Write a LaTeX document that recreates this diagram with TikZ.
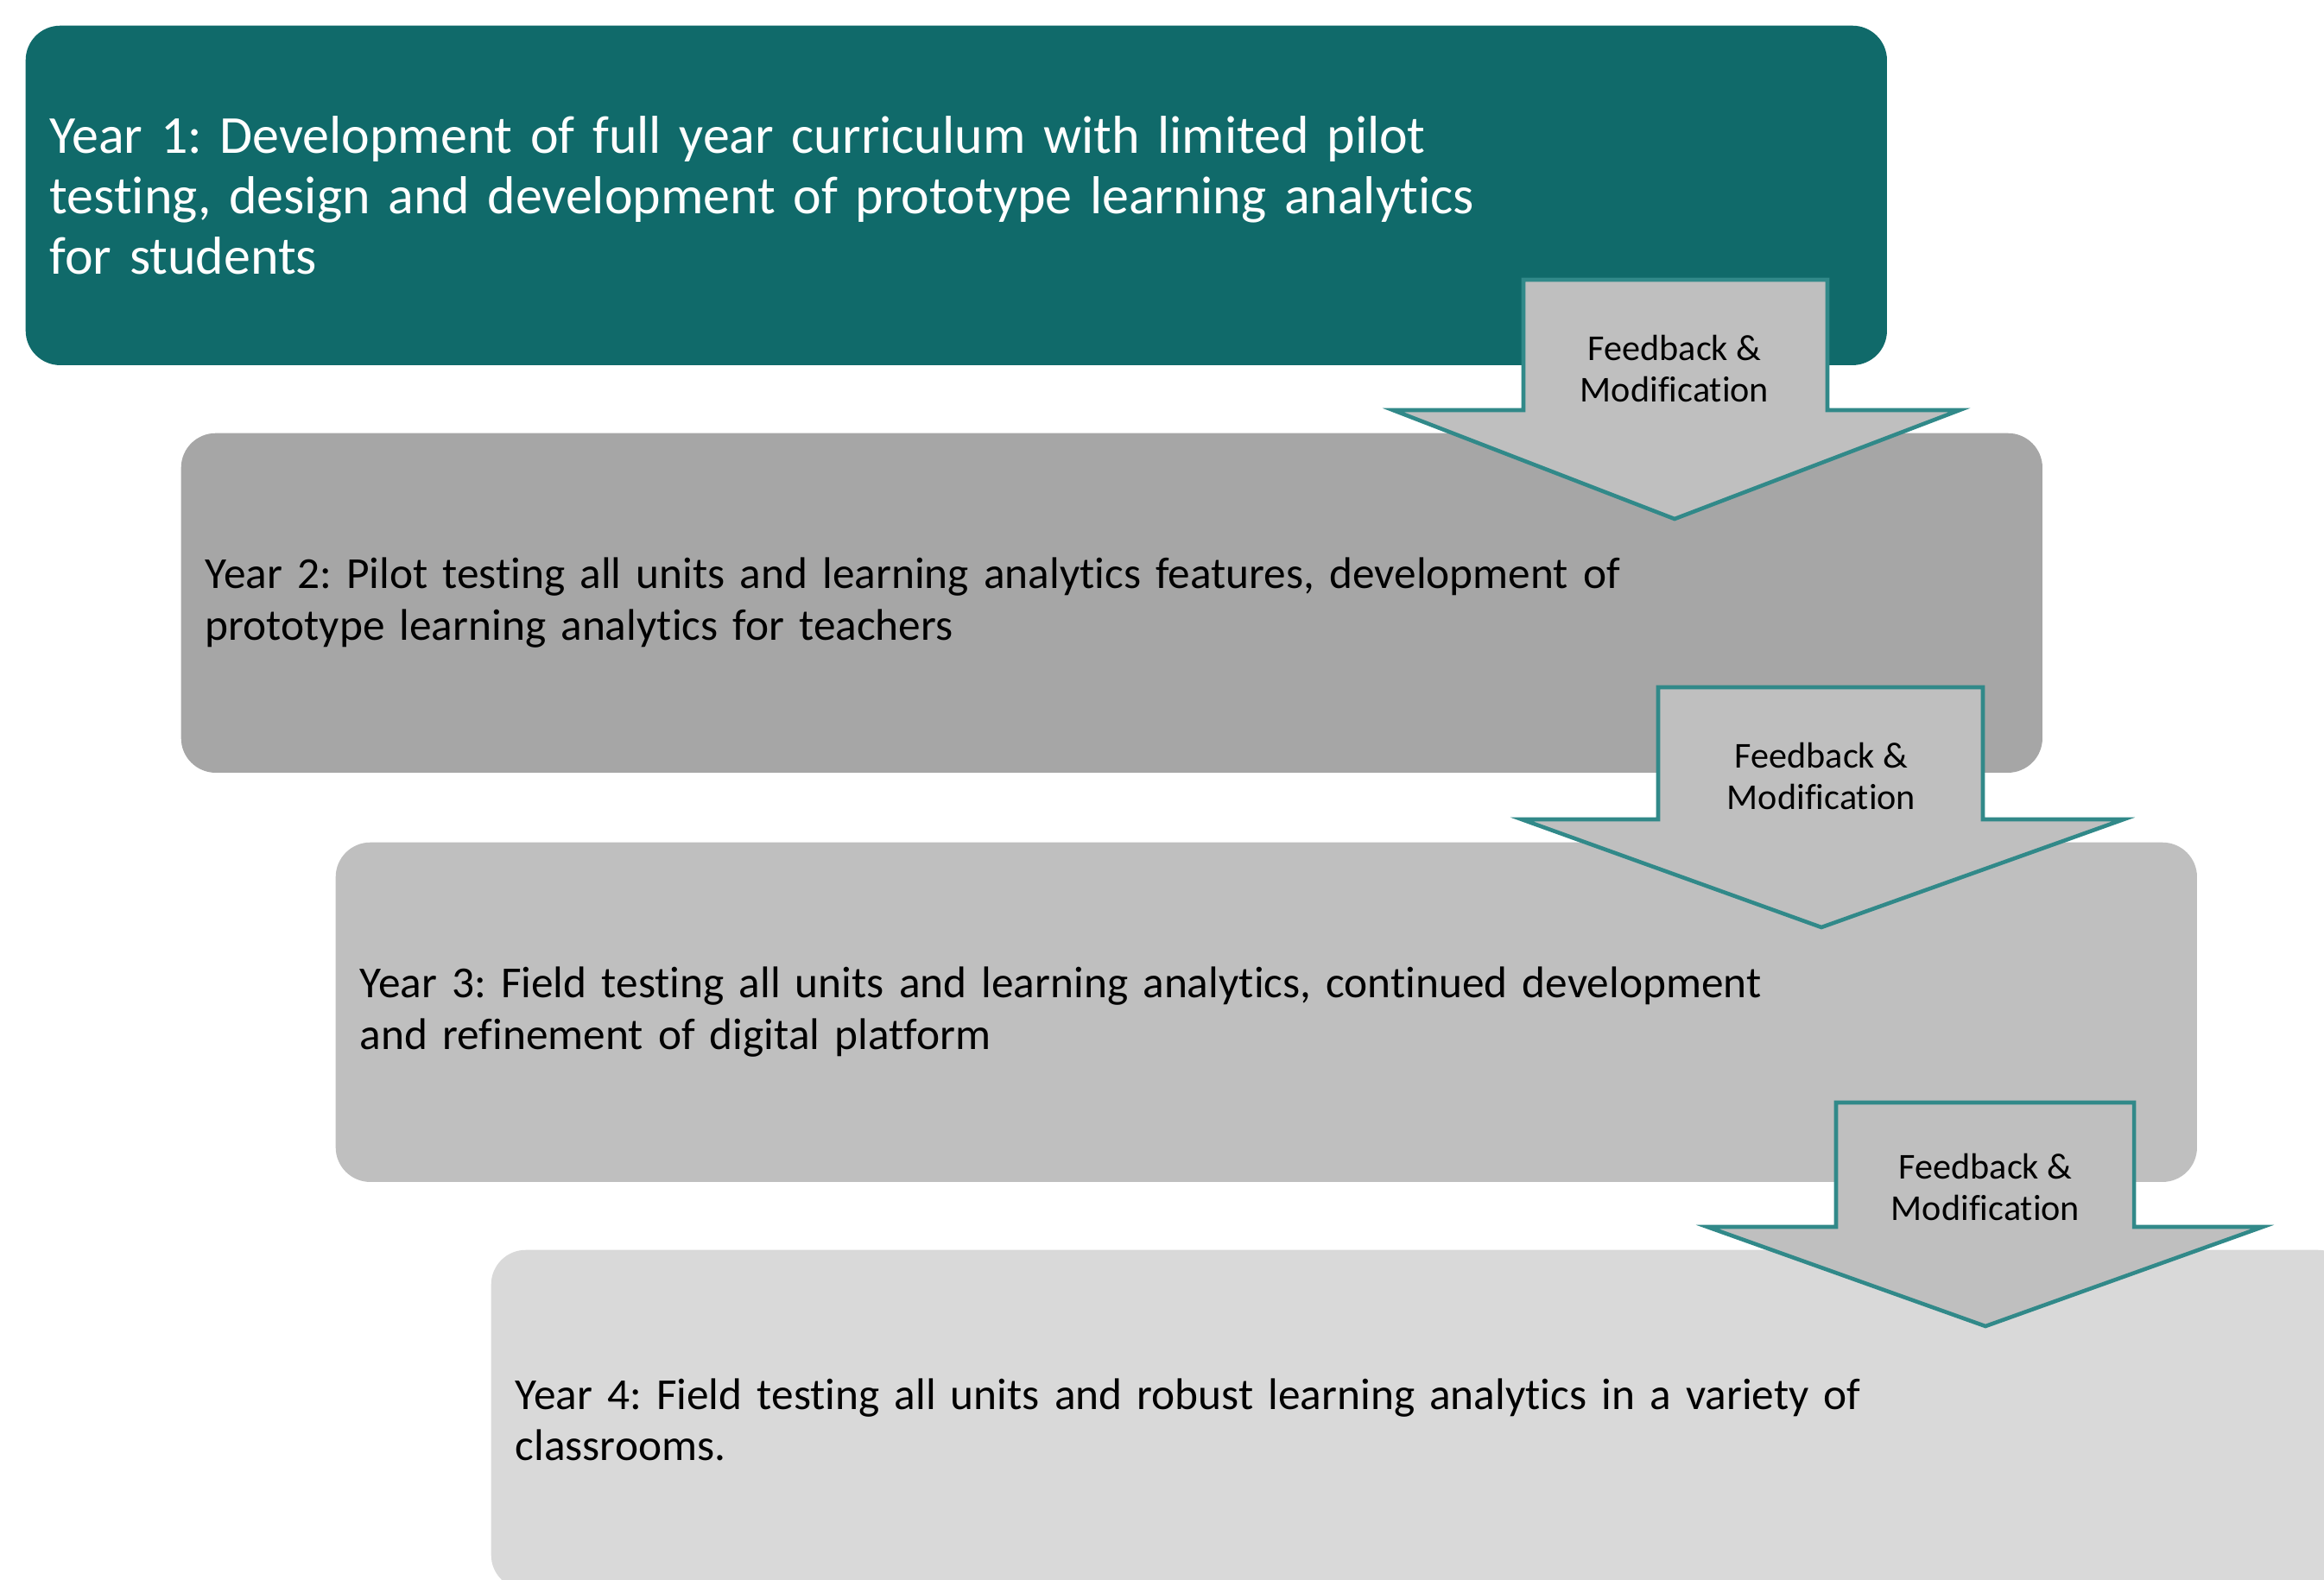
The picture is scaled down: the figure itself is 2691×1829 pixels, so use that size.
\documentclass[tikz,border=0pt]{standalone}
\usepackage{fontspec}
\setmainfont{Carlito}[Ligatures=NoCommon]
\usepackage{xcolor}
\frenchspacing

\definecolor{yearone}{RGB}{16,106,106}
\definecolor{yeartwo}{RGB}{166,166,166}
\definecolor{yearthree}{RGB}{191,191,191}
\definecolor{yearfour}{RGB}{217,217,217}
\definecolor{fbedge}{RGB}{49,137,137}

\tikzset{
 yearbox/.style={anchor=north west,rounded corners=0.4cm,align=left,
  text width=20.98cm,inner xsep=0.28cm,inner ysep=0pt,minimum height=3.93cm},
 fbarrow/.style={draw=fbedge,fill=yearthree,line width=1.3pt,line join=miter},
 fblabel/.style={align=center,font=\fontsize{12}{13.6}\selectfont}
}

\begin{document}
\begin{tikzpicture}[x=0.01cm,y=-0.01cm]
 \useasboundingbox (0,0) rectangle (2691,1829);
 \clip (0,0) rectangle (2691,1829);
 % the four years, each one step down and to the right
 \node[yearbox,fill=yearone,text=white,font=\fontsize{17.6}{19.9}\selectfont] (y1) at (29,29)
  {Year 1: Development of full year curriculum with limited pilot\\testing, design and development of prototype learning analytics\\for students};
 \node[yearbox,fill=yeartwo,font=\fontsize{14.6}{17}\selectfont] (y2) at (209,501)
  {Year 2: Pilot testing all units and learning analytics features, development of\\prototype learning analytics for teachers};
 \node[yearbox,fill=yearthree,font=\fontsize{14.6}{17}\selectfont] (y3) at (388,975)
  {Year 3: Field testing all units and learning analytics, continued development\\and refinement of digital platform};
 \node[yearbox,fill=yearfour,font=\fontsize{14.6}{17}\selectfont] (y4) at (568,1447)
  {Year 4: Field testing all units and robust learning analytics in a variety of\\classrooms.};
 %
 % feedback arrows between the years
 \foreach \i/\sl/\sr/\st/\sh/\hl/\hr/\tx/\ty/\ly in
  {1/1764/2116/324/475/1613/2269/1939/601/427,
   2/1920/2296/796/949/1762/2459/2109/1074/899,
   3/2126/2471/1277/1421/1977/2620/2299/1536/1375}
 {
 \draw[fbarrow] (\sl,\st) -- (\sr,\st) -- (\sr,\sh) -- (\hr,\sh) -- (\tx,\ty)
  -- (\hl,\sh) -- (\sl,\sh) -- cycle;
 \node[fblabel] (fb\i) at (\tx,\ly) {Feedback \&\\Modification};
 }
\end{tikzpicture}
\end{document}
